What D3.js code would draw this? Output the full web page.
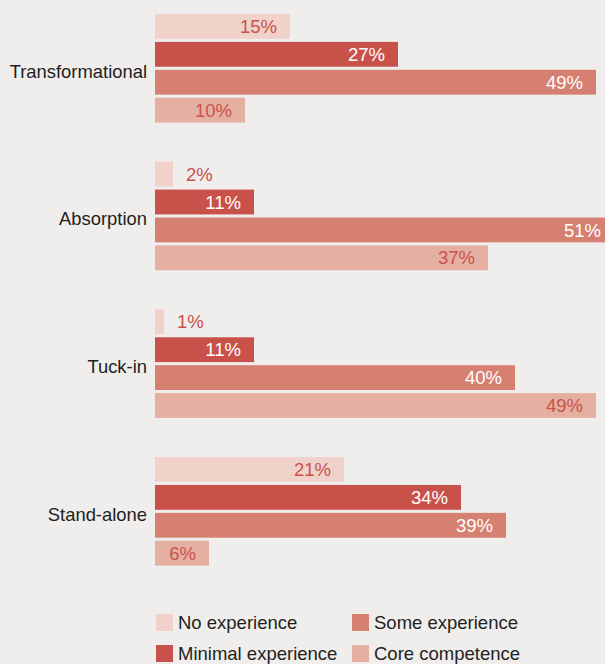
<!DOCTYPE html>
<html>
<head>
<meta charset="utf-8">
<script src="https://cdn.jsdelivr.net/npm/d3@7"></script>
<style>
  body { margin: 0; background: #efeeec; }
  svg { display: block; font-family: "Liberation Sans", Arial, sans-serif; }
</style>
</head>
<body>
<div id="chart"></div>
<script>
// categories, top to bottom
const categories = ['Transformational', 'Absorption', 'Tuck-in', 'Stand-alone'];
const seriesNames = ['No experience', 'Minimal experience', 'Some experience', 'Core competence'];
// values in % per series, in category order
const noExperience = [15, 2, 1, 21];
const minimalExperience = [27, 11, 11, 34];
const someExperience = [49, 51, 40, 39];
const coreCompetence = [10, 37, 49, 6];

const seriesValues = [noExperience, minimalExperience, someExperience, coreCompetence];
const colors = ['#f0d2ca', '#c8524a', '#d68072', '#e5afa2'];
const labelColors = ['#c9524a', '#ffffff', '#ffffff', '#c9524a'];

const width = 605;
const height = 664;

const svg = d3.select('#chart').append('svg')
  .attr('width', width)
  .attr('height', height);

const x = d3.scaleLinear().domain([0, 50]).range([155, 605]);

const y0 = d3.scaleBand()
  .domain(categories)
  .range([14, 565.6])
  .paddingInner(0.265);

const y1 = d3.scaleBand()
  .domain(seriesNames)
  .range([0, y0.bandwidth()])
  .paddingInner(0.11);

const groups = svg.selectAll('g.group')
  .data(categories)
  .enter().append('g')
  .attr('class', 'group')
  .attr('transform', d => 'translate(0,' + y0(d) + ')');

groups.append('text')
  .attr('x', 147)
  .attr('y', y0.bandwidth() / 2 + 3)
  .attr('dy', '0.35em')
  .attr('text-anchor', 'end')
  .attr('font-size', '18.4px')
  .attr('fill', '#231f20')
  .text(d => d);

groups.each(function(cat, ci) {
  const g = d3.select(this);
  seriesNames.forEach(function(s, si) {
    const v = seriesValues[si][ci];
    const by = y1(s);
    g.append('rect')
      .attr('x', x(0))
      .attr('y', by)
      .attr('width', x(v) - x(0))
      .attr('height', y1.bandwidth())
      .attr('fill', colors[si]);
    const outside = v < 5;
    g.append('text')
      .attr('x', outside ? x(v) + 13 : x(v) - 13)
      .attr('y', by + y1.bandwidth() / 2)
      .attr('dy', '0.36em')
      .attr('text-anchor', outside ? 'start' : 'end')
      .attr('font-size', '18.5px')
      .attr('fill', outside ? '#c9524a' : labelColors[si])
      .text(v + '%');
  });
});

// legend, two columns
const legendPos = [[156, 614], [156, 645], [352, 614], [352, 645]];
const legend = svg.selectAll('g.legend')
  .data(seriesNames)
  .enter().append('g')
  .attr('class', 'legend')
  .attr('transform', (d, i) => 'translate(' + legendPos[i][0] + ',' + legendPos[i][1] + ')');

legend.append('rect')
  .attr('width', 17)
  .attr('height', 17)
  .attr('fill', (d, i) => colors[i]);

legend.append('text')
  .attr('x', 22)
  .attr('y', 15)
  .attr('font-size', '18.5px')
  .attr('fill', '#231f20')
  .text(d => d);
</script>
</body>
</html>
